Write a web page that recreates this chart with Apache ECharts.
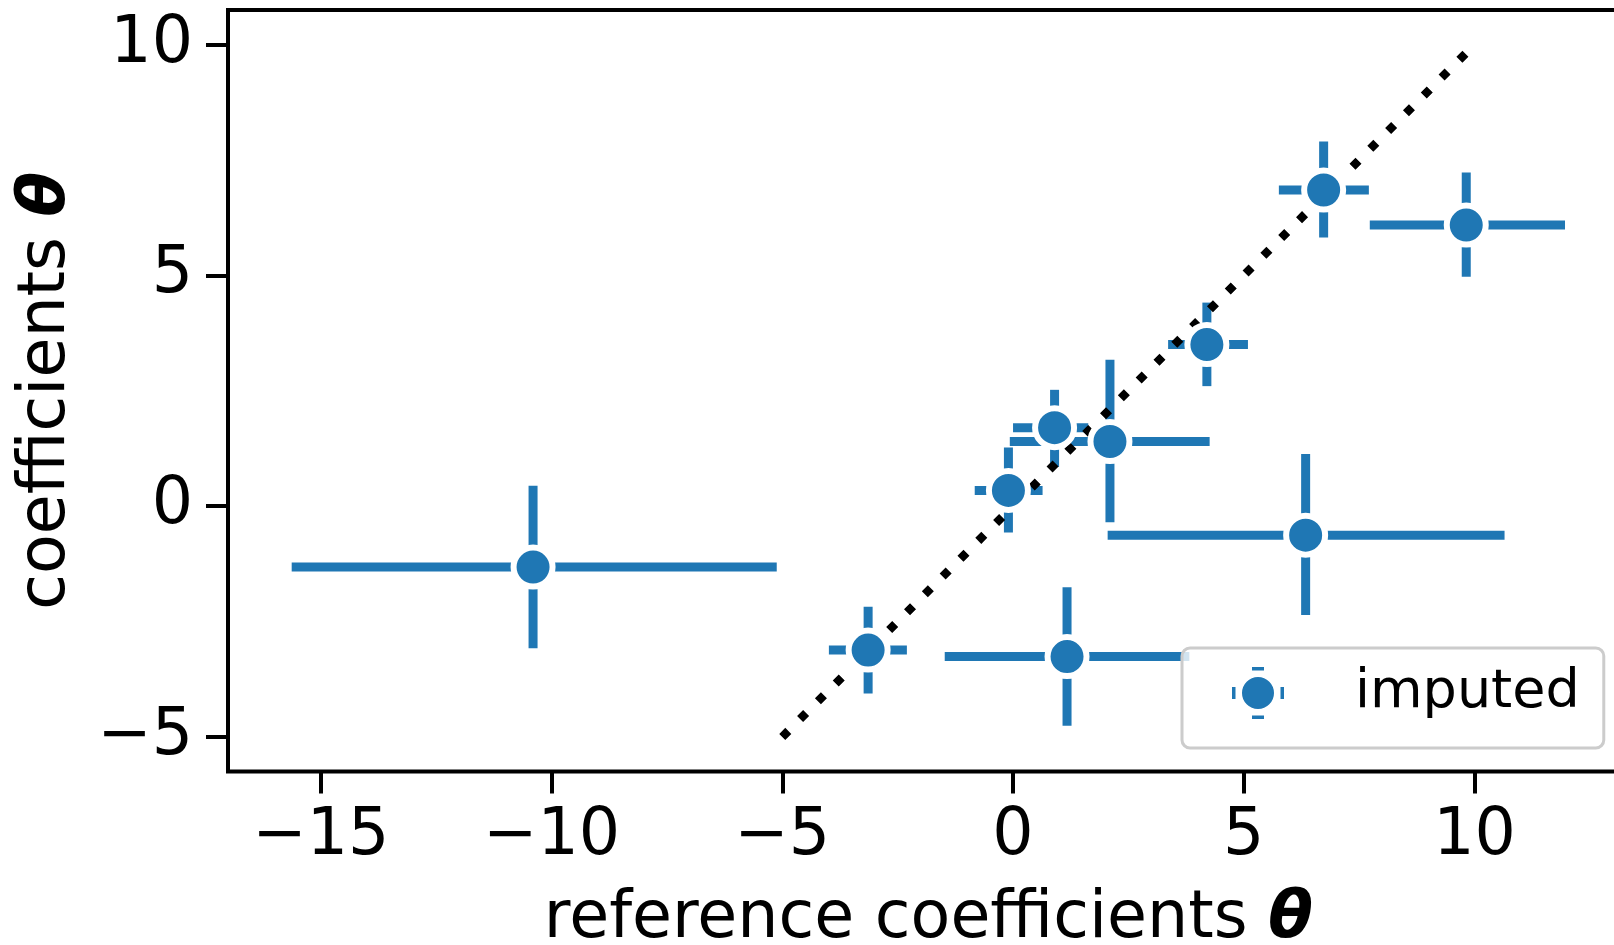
<!DOCTYPE html>
<html>
<head>
<meta charset="utf-8">
<script src="https://cdn.jsdelivr.net/npm/echarts@6/dist/echarts.min.js"></script>
<style>
html, body { margin: 0; padding: 0; background: #fff; }
#chart { width: 1614px; height: 945px; }
</style>
</head>
<body>
<div id="chart"></div>
<script>
// reference vs imputed coefficients, with error bars
const refX = [-10.40, -3.14, -0.10, 0.90, 2.10, 4.20, 6.73, 9.82, 1.17, 6.34];
const estY = [-1.32, -3.12, 0.34, 1.70, 1.40, 3.50, 6.85, 6.09, -3.26, -0.63];
const xLo = [-15.63, -3.99, -0.83, 0.00, -0.07, 3.36, 5.76, 7.73, -1.48, 2.05];
const xHi = [-5.12, -2.30, 0.64, 1.63, 4.26, 5.09, 7.71, 11.96, 3.82, 10.65];
const yLo = [-3.08, -4.06, -0.57, 0.85, -0.35, 2.60, 5.82, 4.97, -4.76, -2.36];
const yHi = [0.44, -2.18, 1.27, 2.52, 3.17, 4.41, 7.90, 7.23, -1.76, 1.13];
const diagLine = [[-5, -5], [10, 10]];
const xTicks = [-15, -10, -5, 0, 5, 10];
const yTicks = [-5, 0, 5, 10];

const blue = "#1f77b4";
const font = "DejaVu Sans";

const myChart = echarts.init(document.getElementById("chart"));

const fmt = v => (v < 0 ? "\u2212" + Math.abs(v) : String(v));

const errData = refX.map((x, i) => [x, estY[i], xLo[i], xHi[i], yLo[i], yHi[i]]);
const pts = refX.map((x, i) => [x, estY[i]]);

const legendIcon = "path://M10 26A16 16 0 1 1 42 26A16 16 0 1 1 10 26Z" +
    "M20 0L32 0L32 3.5L20 3.5Z M20 48.5L32 48.5L32 52L20 52Z" +
    "M0 20L3.5 20L3.5 32L0 32Z M48.5 20L52 20L52 32L48.5 32Z";

const titleStyle = {
    fontFamily: font,
    fontSize: 65,
    color: "#000",
    rich: {t: {fontFamily: font, fontSize: 65, fontWeight: "bold", fontStyle: "italic", color: "#000"}}
};

const option = {
    animation: false,
    grid: {
        left: 228,
        top: 10,
        width: 1400.7,
        height: 761.5,
        outerBoundsMode: "none",
        containLabel: false,
        show: true,
        borderColor: "#000",
        borderWidth: 4,
        backgroundColor: "transparent"
    },
    xAxis: {
        type: "value",
        min: -17.01,
        max: 13.34,
        name: "reference coefficients {t|θ}",
        nameLocation: "middle",
        nameGap: 116,
        nameTextStyle: titleStyle,
        splitLine: {show: false},
        axisLine: {show: false, onZero: false},
        axisTick: {
            show: true,
            length: 22,
            customValues: xTicks,
            lineStyle: {color: "#000", width: 4}
        },
        axisLabel: {
            customValues: xTicks,
            formatter: fmt,
            margin: 33,
            fontFamily: font,
            fontSize: 65,
            color: "#000"
        }
    },
    yAxis: {
        type: "value",
        min: -5.75,
        max: 10.75,
        name: "coefficients {t|θ}",
        nameLocation: "middle",
        nameGap: 148,
        nameTextStyle: titleStyle,
        splitLine: {show: false},
        axisLine: {show: false, onZero: false},
        axisTick: {
            show: true,
            length: 22,
            customValues: yTicks,
            lineStyle: {color: "#000", width: 4}
        },
        axisLabel: {
            customValues: yTicks,
            formatter: fmt,
            margin: 35,
            fontFamily: font,
            fontSize: 65,
            color: "#000"
        }
    },
    legend: {
        data: ["imputed"],
        left: 1182,
        top: 648,
        padding: [18, 24, 28, 50],
        itemWidth: 52,
        itemHeight: 52,
        icon: legendIcon,
        itemStyle: {color: blue, borderWidth: 0},
        textStyle: {fontFamily: font, fontSize: 54, color: "#000", lineHeight: 44, padding: [10, 0, 0, 66]},
        backgroundColor: "rgba(255,255,255,0.8)",
        borderColor: "#cccccc",
        borderWidth: 3,
        borderRadius: 8
    },
    series: [
        {
            type: "custom",
            silent: true,
            z: 1,
            data: errData,
            renderItem: function(params, api) {
                const x = api.value(0), y = api.value(1);
                const a = api.coord([api.value(2), y]);
                const b = api.coord([api.value(3), y]);
                const c = api.coord([x, api.value(4)]);
                const d = api.coord([x, api.value(5)]);
                const st = {stroke: blue, lineWidth: 9, lineCap: "butt"};
                return {
                    type: "group",
                    children: [
                        {type: "line", shape: {x1: a[0], y1: a[1], x2: b[0], y2: b[1]}, style: st},
                        {type: "line", shape: {x1: c[0], y1: c[1], x2: d[0], y2: d[1]}, style: st}
                    ]
                };
            }
        },
        {
            type: "line",
            silent: true,
            z: 2,
            data: diagLine,
            showSymbol: false,
            lineStyle: {color: "#000", width: 8.5, type: [8.5, 16.7], cap: "butt"}
        },
        {
            name: "imputed",
            type: "scatter",
            z: 3,
            data: pts,
            symbol: "circle",
            symbolSize: 39,
            itemStyle: {color: blue, borderColor: "#fff", borderWidth: 6, opacity: 1}
        }
    ]
};

myChart.setOption(option);
</script>
</body>
</html>
